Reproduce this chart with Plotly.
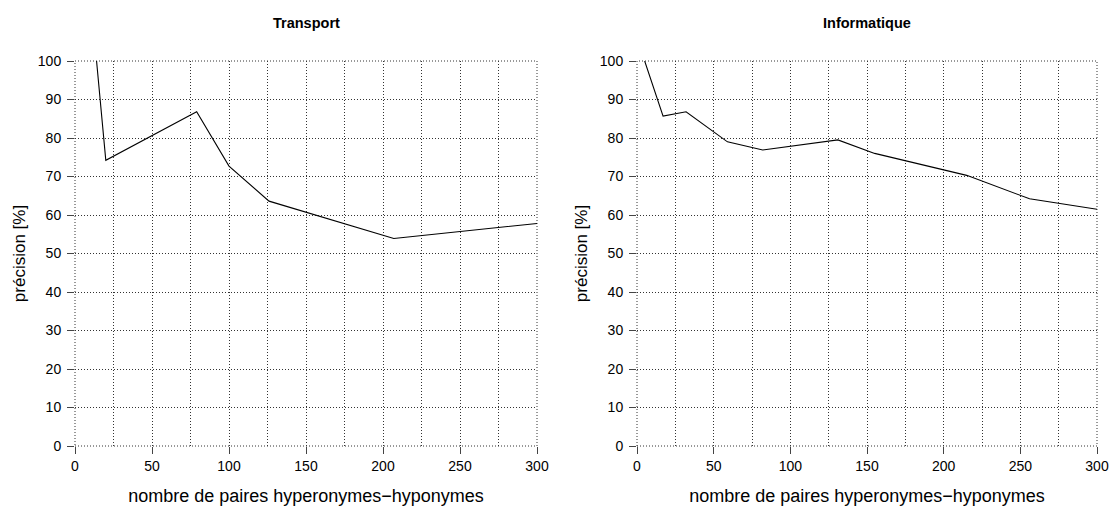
"""Precision curves for two domains, drawn side by side with plotly"""
import plotly.graph_objects as go
from plotly.subplots import make_subplots

# Transport
transport_x = [14, 20, 79, 100, 126, 207, 300]
transport_y = [100, 74.2, 86.8, 72.7, 63.6, 53.9, 57.8]

# Informatique
info_x = [5, 17, 32, 59, 82, 131, 155, 215, 256, 300]
info_y = [100, 85.7, 86.8, 79.0, 76.9, 79.5, 76.0, 70.3, 64.2, 61.5]

titles = ["Transport", "Informatique"]
x_title = "nombre de paires hyperonymes\u2212hyponymes"
y_title = "précision [%]"

W, H = 1110, 506
FONT = "Liberation Sans, Arial, Helvetica, sans-serif"
GRID = "#333333"
DOT = "1px,2px"

fig = make_subplots(rows=1, cols=2)

for col, (xs, ys) in enumerate([(transport_x, transport_y), (info_x, info_y)], start=1):
    fig.add_trace(
        go.Scatter(x=xs, y=ys, mode="lines",
                   line={"color": "black", "width": 1.1},
                   showlegend=False, hoverinfo="skip"),
        row=1, col=col,
    )

axis_common = dict(
    showgrid=True, gridcolor=GRID, griddash=DOT, gridwidth=1,
    zeroline=False, showline=False,
    ticks="outside", ticklen=7, tickcolor="#444444", tickwidth=1.3,
    tickfont={"size": 14, "color": "black"},
    automargin=False,
)


def px_x(p):
    return p / W


def px_y(p):
    return (H - p) / H


# pixel positions of the plotting areas
x_domains = [(px_x(75), px_x(537)), (px_x(637), px_x(1097))]
y_domain = (px_y(446), px_y(61))

for i in range(2):
    fig.update_xaxes(
        **axis_common,
        range=[0, 300], dtick=50, domain=list(x_domains[i]),
        minor={"dtick": 25, "showgrid": True, "gridcolor": GRID, "griddash": DOT},
        title={"text": x_title, "font": {"size": 18}, "standoff": 19},
        row=1, col=i + 1,
    )
    fig.update_yaxes(
        **axis_common,
        range=[0, 100], dtick=10, domain=list(y_domain),
        ticklabelstandoff=3,
        title={"text": y_title, "font": {"size": 17}, "standoff": 7},
        row=1, col=i + 1,
    )
    # dotted frame, the edge grid lines are not drawn by plotly
    xr = "x" if i == 0 else "x2"
    yr = "y" if i == 0 else "y2"
    fig.add_shape(
        type="rect", xref=xr + " domain", yref=yr + " domain",
        x0=0, x1=1, y0=0, y1=1, layer="below",
        line={"color": GRID, "width": 1, "dash": DOT},
    )
    fig.add_annotation(
        text="<b>" + titles[i] + "</b>", showarrow=False,
        x=sum(x_domains[i]) / 2, y=px_y(23),
        xref="paper", yref="paper", xanchor="center", yanchor="middle",
        font={"size": 14.5, "color": "black"},
    )

fig.update_layout(
    width=W, height=H,
    margin={"l": 0, "r": 0, "t": 0, "b": 0},
    paper_bgcolor="white", plot_bgcolor="white",
    font={"family": FONT, "color": "black"},
)

# drop the default page margin so the figure sits at the window corner
fig.write_html(
    "out.html",
    config={"displayModeBar": False},
    post_script="document.body.style.margin='0';document.body.style.overflow='hidden';",
)
